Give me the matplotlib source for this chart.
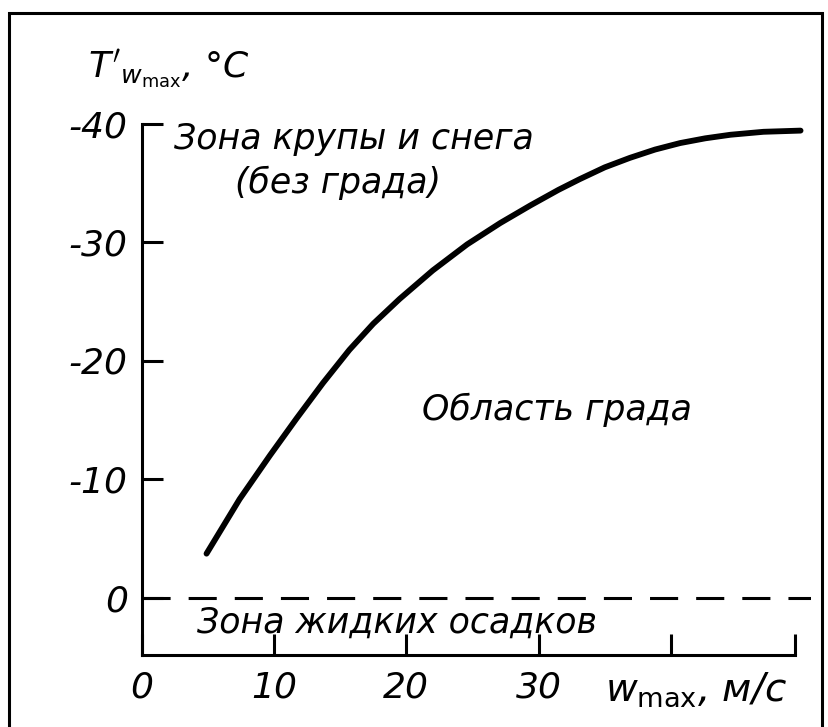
import matplotlib
matplotlib.use("Agg")
import matplotlib.pyplot as plt
from matplotlib.patches import Rectangle

# ---- data ----
w_max = [4.9, 7.4, 9.7, 11.7, 13.7, 15.7, 17.5, 19.5, 22.0, 24.6, 27.1, 29.4, 31.5,
         33.1, 35.0, 36.9, 38.8, 40.7, 42.6, 44.5, 47.0, 49.8]
t_wmax = [-3.7, -8.3, -12.0, -15.1, -18.1, -20.9, -23.1, -25.2, -27.6, -29.8, -31.6, -33.1, -34.4,
          -35.3, -36.3, -37.1, -37.8, -38.35, -38.75, -39.05, -39.3, -39.4]

x_ticks = [0, 10, 20, 30, 40, 49.4]
x_ticklabels = ["0", "10", "20", "30", "", ""]
y_ticks = [-40, -30, -20, -10, 0]
y_ticklabels = ["-40", "-30", "-20", "-10", "0"]
freezing_level = 0

zone_snow = "Зона крупы и снега"
zone_snow2 = "(без града)"
zone_hail = "Область града"
zone_liquid = "Зона жидких осадков"

FONT = dict(family="DejaVu Sans", style="italic")

W, H = 829, 727
fig = plt.figure(figsize=(W / 100, H / 100), dpi=100)
fig.patch.set_facecolor("white")

# axes placement (pixel-derived)
x0_px, px_per_x = 141.7, 13.23
y0_px, px_per_y = 597.5, 11.85
xlim = (0, 50.6)
ylim = (4.85, -40)
left = x0_px / W
width = (xlim[1] - xlim[0]) * px_per_x / W
bottom_px = y0_px + ylim[0] * px_per_y  # from top
top_px = y0_px + ylim[1] * px_per_y
ax = fig.add_axes([left, 1 - bottom_px / H, width, (bottom_px - top_px) / H])
ax.set_xlim(*xlim)
ax.set_ylim(*ylim)

ax.plot(w_max, t_wmax, color="black", lw=4.2, solid_capstyle="round",
        solid_joinstyle="round", clip_on=False)
ax.axhline(freezing_level, color="black", lw=2.2, linestyle=(0, (9.2, 5.9)))

for s in ["top", "right"]:
    ax.spines[s].set_visible(False)
for s in ["left", "bottom"]:
    ax.spines[s].set_linewidth(2.2)
ax.spines["bottom"].set_bounds(0, 49.4)
ax.spines["left"].set_bounds(ylim[0], -40)

ax.set_xticks(x_ticks)
ax.set_xticklabels(x_ticklabels, fontsize=26, **FONT)
ax.set_yticks(y_ticks)
ax.set_yticklabels(y_ticklabels, fontsize=26, **FONT)
ax.tick_params(axis="both", direction="in", length=15, width=2.2, color="black")
ax.tick_params(axis="y", pad=10)
ax.tick_params(axis="x", pad=11)

txt = dict(fontsize=25, color="black", clip_on=False, **FONT)
ax.text(2.44, -38.7, zone_snow, ha="left", va="center", **txt)
ax.text(7.05, -35.0, zone_snow2, ha="left", va="center", **txt)
ax.text(21.2, -15.8, zone_hail, ha="left", va="center", **txt)
ax.text(4.2, 2.15, zone_liquid, ha="left", va="center", **txt)

ax.text(35.0, 7.8, r"$w_{\rm max}$, м/с", ha="left", va="center", fontsize=28,
        clip_on=False, **FONT)
ax.text(-4.05, -44.6, r"$T'_{w_{\rm max}}$, °C", ha="left", va="center", fontsize=26,
        clip_on=False, **FONT)

# scan border
fig.add_artist(Rectangle((9.3 / W, -0.05), (822 - 9.3) / W, 1.05 - 13.3 / H,
                         transform=fig.transFigure, fill=False, lw=2.2,
                         edgecolor="black", clip_on=False))

fig.savefig("out.png", dpi=100, facecolor="white")
